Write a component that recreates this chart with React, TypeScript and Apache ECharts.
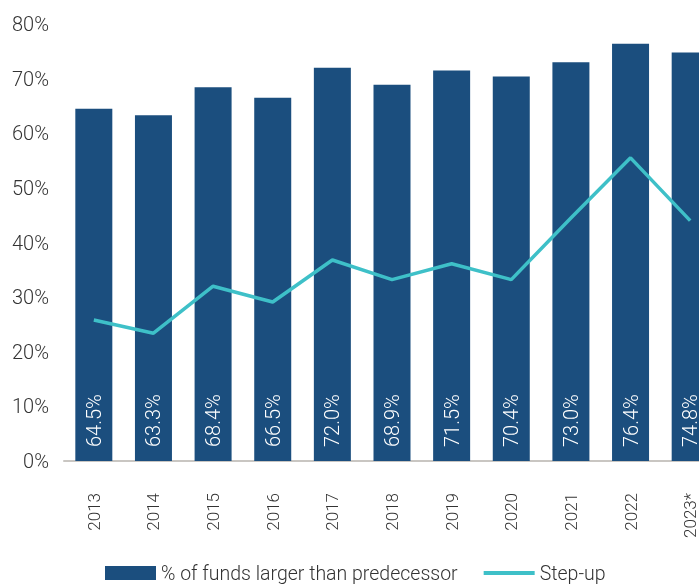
import React, { useEffect, useRef } from "react";
import * as echarts from "echarts";

const categories = ["2013", "2014", "2015", "2016", "2017", "2018", "2019", "2020", "2021", "2022", "2023*"];
const largerThanPredecessor = [64.5, 63.3, 68.4, 66.5, 72.0, 68.9, 71.5, 70.4, 73.0, 76.4, 74.8];
const stepUp = [25.8, 23.4, 32.0, 29.1, 36.8, 33.2, 36.1, 33.2, 44.5, 55.5, 44.0];
const barName = "% of funds larger than predecessor";
const lineName = "Step-up";

const FONT = "Roboto, 'Liberation Sans', sans-serif";
const TEXT = "#333333";

export default function App() {
  const ref = useRef<HTMLDivElement>(null);
  useEffect(() => {
    if (!ref.current) return;
    const chart = echarts.init(ref.current, undefined, { renderer: "svg" });
    chart.setOption({
      animation: false,
      textStyle: { fontFamily: FONT, fontWeight: 300 },
      grid: { left: 64, right: 0, top: 24, bottom: 123, containLabel: false },
      legend: {
        left: 105,
        top: 563,
        padding: 0,
        itemWidth: 51,
        itemHeight: 14,
        itemGap: 26,
        textStyle: { fontFamily: FONT, fontWeight: 300, fontSize: 19.5, color: TEXT },
        data: [
          { name: barName, icon: "rect" },
          { name: lineName, icon: "path://M0,0L50,0L50,4L0,4Z" },
        ],
      },
      xAxis: {
        type: "category",
        data: categories,
        axisLine: { show: true, lineStyle: { color: "#c9c6c2", width: 2 } },
        axisTick: { show: false },
        axisLabel: {
          rotate: 90,
          margin: 32,
          fontSize: 17,
          fontWeight: 300,
          color: TEXT,
          fontFamily: FONT,
          interval: 0,
        },
      },
      yAxis: {
        type: "value",
        min: 0,
        max: 80,
        interval: 10,
        splitLine: { show: false },
        axisLine: { show: false },
        axisTick: { show: false },
        axisLabel: {
          formatter: "{value}%",
          fontSize: 20,
          fontWeight: 300,
          color: TEXT,
          fontFamily: FONT,
          margin: 15,
        },
      },
      series: [
        {
          name: barName,
          type: "bar",
          data: largerThanPredecessor,
          barWidth: 37,
          itemStyle: { color: "#1b4e7e" },
          label: {
            show: true,
            position: "insideBottom",
            rotate: 90,
            align: "left",
            verticalAlign: "middle",
            distance: 14,
            color: "#ffffff",
            fontSize: 20,
            fontWeight: 300,
            fontFamily: FONT,
            formatter: (p: any) => p.value.toFixed(1) + "%",
          },
        },
        {
          name: lineName,
          type: "line",
          data: stepUp,
          symbol: "none",
          lineStyle: { color: "#3ec0c8", width: 3.5 },
          itemStyle: { color: "#3ec0c8" },
        },
      ],
    });
    return () => chart.dispose();
  }, []);
  return (
    <div style={{ position: "fixed", left: 0, top: 0, width: 699, height: 584, overflow: "hidden" }}>
      <div ref={ref} style={{ position: "absolute", left: 0, top: 0, width: 720, height: 584 }} />
    </div>
  );
}
